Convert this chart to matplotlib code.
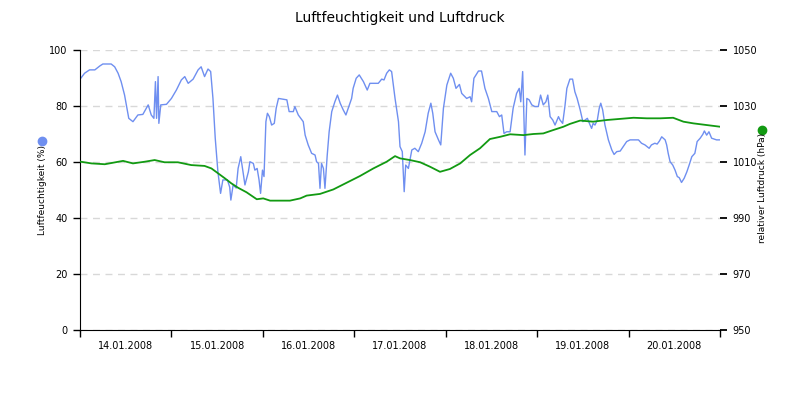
import numpy as np
import matplotlib
matplotlib.use("Agg")
import matplotlib.pyplot as plt
import matplotlib.dates as mdates
from matplotlib.lines import Line2D

# Messzeitpunkte als Stunden ab 14.01.2008 00:00
START = np.datetime64("2008-01-14T00:00")

hum_hours = [0.2, 1.2, 2.5, 3.9, 5.2, 6.0, 8.2, 9.1, 10.0, 10.8, 11.7, 12.4, 12.8, 13.9,
             15.2, 16.5, 17.9, 18.7, 19.4, 19.8, 20.1, 20.5, 20.7, 21.2, 22.7, 24.0, 25.3,
             26.6, 27.5, 28.4, 29.7, 31.0, 31.8, 32.7, 33.6, 34.3, 34.9, 35.5, 36.2, 36.9,
             37.5, 38.7, 39.3, 39.6, 40.2, 41.0, 41.5, 42.2, 42.8, 43.3, 44.2, 44.6, 45.5,
             45.9, 46.5, 47.0, 47.4, 47.9, 48.3, 48.8, 49.2, 49.7, 50.3, 51.0, 51.5, 52.1,
             53.4, 54.3, 54.9, 56.0, 56.4, 57.3, 58.6, 59.1, 59.9, 60.8, 61.7, 62.1, 62.6,
             63.0, 63.4, 63.9, 64.3, 64.9, 65.4, 66.1, 66.9, 67.6, 68.3, 69.1, 69.8, 70.4,
             71.3, 71.7, 72.5, 73.3, 74.4, 75.4, 76.1, 78.3, 79.2, 79.8, 80.5, 81.2, 81.8,
             82.7, 83.6, 84.0, 84.6, 85.1, 85.5, 86.2, 87.1, 87.9, 88.8, 89.7, 90.6, 91.4,
             92.1, 92.6, 93.2, 94.1, 94.7, 95.4, 96.3, 97.3, 98.0, 98.7, 99.6, 100.2, 101.5,
             102.4, 102.8, 103.4, 104.6, 105.4, 106.3, 107.2, 108.1, 109.4, 110.1, 110.7,
             111.3, 112.0, 112.9, 113.7, 114.6, 115.3, 115.7, 116.2, 116.8, 117.3, 117.9,
             118.6, 119.4, 120.3, 120.9, 121.6, 122.3, 122.8, 123.4, 124.1, 124.7, 125.6,
             126.0, 126.7, 127.3, 127.8, 128.6, 129.3, 129.9, 130.5, 131.3, 132.0, 132.6,
             133.2, 133.9, 134.3, 134.7, 135.2, 135.8, 136.3, 136.7, 137.2, 137.8, 138.7,
             139.6, 140.2, 140.9, 141.8, 142.6, 143.5, 144.4, 146.6, 147.4, 148.3, 149.4,
             150.0, 150.9, 151.5, 152.1, 152.7, 153.6, 154.0, 154.4, 154.9, 155.6, 156.2,
             156.8, 157.3, 157.9, 158.6, 159.3, 159.9, 160.6, 161.4, 162.0, 162.8, 163.5,
             163.9, 164.5, 165.1, 165.8, 167.1, 168.0]
humidity = [89.9, 91.7, 92.9, 92.9, 94.3, 95.0, 95.0, 94.0, 91.7, 88.7, 83.9, 78.6, 75.6, 74.4,
            76.8, 77.0, 80.4, 76.8, 75.6, 88.7, 75.6, 90.5, 73.8, 80.4, 80.6, 82.7, 85.7,
            89.3, 90.5, 88.1, 89.6, 92.9, 94.0, 90.5, 93.2, 92.3, 82.7, 68.5, 56.5, 48.8,
            53.6, 53.6, 51.0, 46.4, 51.8, 50.7, 57.7, 61.9, 56.5, 51.8, 56.5, 60.1, 59.5,
            57.1, 57.7, 53.6, 48.8, 57.1, 54.8, 74.4, 77.4, 76.2, 73.2, 73.8, 79.2, 82.7,
            82.4, 82.2, 78.0, 78.0, 79.8, 76.8, 74.4, 69.6, 66.1, 63.1, 62.5, 60.1, 59.5,
            50.6, 59.5, 57.7, 50.6, 62.5, 70.8, 78.0, 81.5, 83.9, 81.0, 78.6, 76.8, 79.2,
            82.7, 86.3, 89.9, 91.1, 88.7, 85.7, 88.1, 88.1, 89.6, 89.3, 91.7, 92.9, 92.3,
            82.7, 74.4, 65.5, 63.7, 49.4, 58.9, 57.7, 64.3, 64.9, 63.7, 66.7, 70.8, 77.4,
            81.0, 77.4, 70.8, 67.9, 66.1, 79.2, 87.5, 91.7, 89.9, 86.3, 87.7, 84.5, 82.7,
            83.3, 81.5, 89.9, 92.5, 92.5, 86.3, 82.7, 78.0, 78.0, 76.2, 76.8,
            70.2, 70.8, 70.8, 79.2, 84.5, 86.3, 81.5, 92.3, 62.5, 82.7, 82.2,
            80.4, 79.8, 79.8, 83.9, 80.4, 81.5, 83.9, 76.2, 75.0, 73.2, 76.2,
            75.0, 73.8, 80.0, 86.3, 89.6, 89.6, 85.1, 82.7, 78.6, 74.4, 75.0,
            75.6, 73.2, 72.0, 73.8, 73.2, 75.0, 79.2, 81.0, 78.6, 73.2, 67.9,
            64.3, 62.7, 63.7, 63.9, 65.5, 67.3, 67.9, 67.9, 66.7, 66.1, 64.9,
            66.1, 66.7, 66.4, 67.5, 69.0, 67.9, 66.1, 63.1, 60.1, 58.9, 57.1,
            54.8, 54.4, 52.7, 54.2, 56.5, 58.9, 61.9, 63.1, 67.3, 68.5, 69.9,
            71.1, 69.6, 70.8, 68.5, 67.9, 67.9]

press_hours = [0.2, 3.0, 6.5, 11.3, 13.9, 17.0, 19.6, 22.2, 25.7, 29.2, 32.7, 34.5, 36.2,
               38.0, 39.7, 41.5, 43.7, 46.4, 48.1, 49.9, 52.5, 55.1, 57.8, 59.5, 63.0, 66.5,
               70.0, 73.5, 77.0, 80.5, 82.7, 84.0, 86.6, 89.3, 91.9, 94.5, 97.1, 99.8, 102.4,
               105.0, 107.6, 110.3, 112.9, 116.4, 119.0, 121.6, 124.2, 126.9, 128.6, 131.3,
               134.7, 138.3, 141.8, 145.3, 148.8, 152.3, 155.7, 158.4, 161.0, 164.5, 168.0]
pressure = [1010.1, 1009.5, 1009.2, 1010.4, 1009.5, 1010.1, 1010.7, 1009.9, 1009.9, 1008.9,
            1008.6, 1007.7, 1006.0, 1004.2, 1002.4, 1000.8, 999.2, 996.7, 997.0, 996.2,
            996.2, 996.2, 997.0, 998.0, 998.6, 1000.2, 1002.6, 1005.0, 1007.7, 1010.1,
            1012.1, 1011.3, 1010.7, 1009.9, 1008.3, 1006.5, 1007.5, 1009.5, 1012.5, 1014.9,
            1018.2, 1019.0, 1019.9, 1019.6, 1020.0, 1020.2, 1021.4, 1022.6, 1023.6, 1024.8,
            1024.4, 1025.0, 1025.4, 1025.8, 1025.6, 1025.6, 1025.8, 1024.4, 1023.8, 1023.2,
            1022.6]

day_labels = ["14.01.2008", "15.01.2008", "16.01.2008", "17.01.2008",
              "18.01.2008", "19.01.2008", "20.01.2008"]

BLUE = "#6f8ff0"
GREEN = "#129a12"


def to_time(hours):
    return START + (np.array(hours) * 60).astype("timedelta64[m]")


fig = plt.figure(figsize=(8, 4), dpi=100)
ax = fig.add_axes([0.1, 0.175, 0.8, 0.7])
ax2 = ax.twinx()

ax.plot(to_time(hum_hours), humidity, color=BLUE, lw=1.0)
ax2.plot(to_time(press_hours), pressure, color=GREEN, lw=1.3)

ax.set_xlim(START, START + np.timedelta64(7, "D"))
ax.set_ylim(0, 100)
ax2.set_ylim(950, 1050)

ax.set_yticks([0, 20, 40, 60, 80, 100])
ax2.set_yticks([950, 970, 990, 1010, 1030, 1050])
ax.yaxis.grid(True, color="#d8d8d8", ls=(0, (5, 4)), lw=1)
ax.set_axisbelow(True)

# Tagesgrenzen als Striche, Beschriftung in der Tagesmitte
ax.xaxis.set_major_locator(mdates.DayLocator())
ax.xaxis.set_major_formatter(plt.NullFormatter())
mids = [START + np.timedelta64(12 + 24 * i, "h") for i in range(len(day_labels))]
ax.set_xticks(mdates.date2num(mids), minor=True)
ax.set_xticklabels(day_labels, minor=True)
ax.tick_params(axis="x", which="major", length=5, width=1, direction="out")
ax.tick_params(axis="x", which="minor", length=0, labelsize=7, pad=8)
ax.tick_params(axis="y", length=5, width=1, labelsize=7, pad=4)
ax2.tick_params(axis="y", length=5, width=1.3, labelsize=7, pad=4)

for s in ["top", "right"]:
    ax.spines[s].set_visible(False)
for s in ["top", "right", "left", "bottom"]:
    ax2.spines[s].set_visible(False)

fig.text(0.5, 0.955, "Luftfeuchtigkeit und Luftdruck", ha="center", va="center", fontsize=10)
fig.text(0.053, 0.525, "Luftfeuchtigkeit (%)", rotation=90, ha="center", va="center", fontsize=6.5)
fig.text(0.953, 0.53, "relativer Luftdruck (hPa)", rotation=90, ha="center", va="center", fontsize=6.5)
fig.add_artist(Line2D([0.053], [0.648], marker="o", markersize=6, color=BLUE,
                      transform=fig.transFigure))
fig.add_artist(Line2D([0.953], [0.674], marker="o", markersize=6, color=GREEN,
                      transform=fig.transFigure))

fig.savefig("out.png", dpi=100)
